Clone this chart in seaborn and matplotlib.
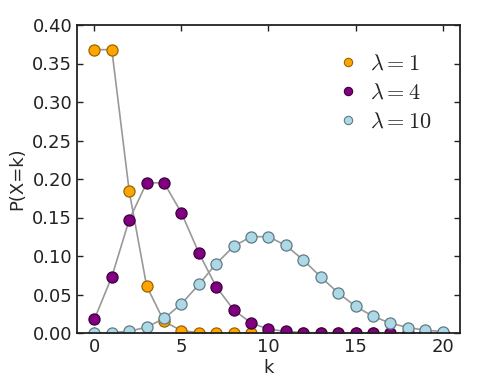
import matplotlib
matplotlib.use("Agg")
import matplotlib.pyplot as plt
from matplotlib.lines import Line2D
import seaborn as sns
import pandas as pd

k = list(range(21))
p_lam1 = [0.368, 0.368, 0.184, 0.061, 0.015, 0.003, 0.0005, 0.0001, 0.0, 0.0, 0.0,
          0.0, 0.0, 0.0, 0.0, 0.0, 0.0, 0.0, 0.0, 0.0, 0.0]
p_lam4 = [0.018, 0.073, 0.147, 0.195, 0.195, 0.156, 0.104, 0.060, 0.030, 0.013, 0.005,
          0.002, 0.0006, 0.0002, 0.0001, 0.0, 0.0, 0.0, 0.0, 0.0, 0.0]
p_lam10 = [0.00005, 0.0005, 0.0023, 0.0076, 0.0189, 0.0378, 0.0631, 0.0901, 0.1126,
           0.1251, 0.1251, 0.1137, 0.0948, 0.0729, 0.0521, 0.0347, 0.0217, 0.0128,
           0.0071, 0.0037, 0.0019]
labels = [r"$\lambda=1$", r"$\lambda=4$", r"$\lambda=10$"]
face_colors = ["#FFA500", "#800080", "#ADD8E6"]
edge_colors = ["#9a6400", "#3d003d", "#5f7a84"]
x_ticks = [0, 5, 10, 15, 20]
y_ticks = [0.00, 0.05, 0.10, 0.15, 0.20, 0.25, 0.30, 0.35, 0.40]

sns.set_style("ticks")
plt.rcParams["font.family"] = ["DejaVu Sans"]
plt.rcParams["mathtext.fontset"] = "cm"
plt.rcParams["xtick.direction"] = "in"
plt.rcParams["ytick.direction"] = "in"
plt.rcParams["xtick.top"] = True
plt.rcParams["ytick.right"] = True

fig = plt.figure(figsize=(4.85, 3.92), dpi=100)
ax = fig.add_axes([77/485, 1-333/392, (460-77)/485, (333-25)/392])

handles = []
for vals, lab, fc, ec in zip([p_lam1, p_lam4, p_lam10], labels, face_colors, edge_colors):
    df = pd.DataFrame({"k": k, "p": vals})
    sns.lineplot(data=df, x="k", y="p", ax=ax, color="#999999", linewidth=1.2,
                 marker="o", markersize=8, markerfacecolor=fc, markeredgecolor=ec,
                 markeredgewidth=0.9)
    handles.append(Line2D([], [], linestyle="none", marker="o", markersize=6,
                          markerfacecolor=fc, markeredgecolor=ec, markeredgewidth=0.8,
                          label=lab))

ax.set_xlim(-1, 21)
ax.set_ylim(0, 0.40)
ax.set_xticks(x_ticks)
ax.set_yticks(y_ticks)
ax.set_yticklabels([f"{v:.2f}" for v in y_ticks])
ax.tick_params(labelsize=13, length=4, width=1, colors="#222222")
for s in ax.spines.values():
    s.set_linewidth(1.3)
    s.set_color("#222222")
ax.set_xlabel("k", fontsize=13, labelpad=2)
ax.set_ylabel("P(X=k)", fontsize=13, labelpad=4)
ax.legend(handles=handles, loc="upper right", frameon=False, fontsize=16,
          handlelength=1.2, handletextpad=0.4, labelspacing=0.4,
          borderaxespad=0.9)

fig.savefig("out.png", dpi=100)
